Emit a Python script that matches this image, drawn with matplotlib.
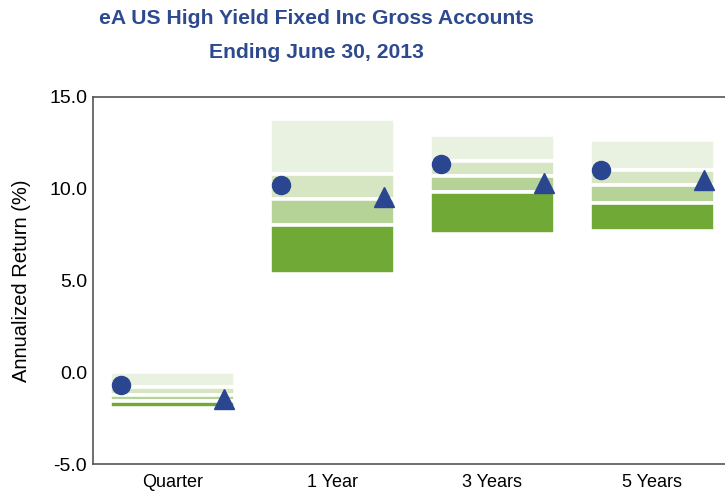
import matplotlib
matplotlib.use('Agg')
import matplotlib.pyplot as plt
from matplotlib import font_manager

# eA US High Yield universe percentiles, periods ending June 30, 2013
categories = ['Quarter', '1 Year', '3 Years', '5 Years']
pct_5 = [0.00, 13.80, 12.93, 12.66]
pct_25 = [-0.79, 10.80, 11.52, 11.03]
pct_50 = [-1.25, 9.45, 10.71, 10.18]
pct_75 = [-1.56, 8.00, 9.81, 9.24]
pct_95 = [-1.92, 5.38, 7.55, 7.68]
portfolio = [-0.71, 10.20, 11.34, 11.03]
benchmark = [-1.47, 9.52, 10.33, 10.49]

yticks = [-5.0, 0.0, 5.0, 10.0, 15.0]

names = {f.name for f in font_manager.fontManager.ttflist}
narrow = 'Liberation Sans Narrow' if 'Liberation Sans Narrow' in names else 'Liberation Sans'

band_colors = ['#e9f1e0', '#d6e5c2', '#b6d397', '#70a935']
marker_color = '#2a4691'
title_color = '#2e4a8e'

fig = plt.figure(figsize=(7.25, 4.92), dpi=100)
ax = fig.add_axes([0.128, 0.0563, 0.872, 0.7472])

x = list(range(len(categories)))
width = 0.78
bands = [(pct_25, pct_5), (pct_50, pct_25), (pct_75, pct_50), (pct_95, pct_75)]
for (lo, hi), col in zip(bands, band_colors):
    heights = [h - l for l, h in zip(lo, hi)]
    ax.bar(x, heights, width=width, bottom=lo, color=col,
           edgecolor='white', linewidth=2.6, zorder=2)

off = 0.32
ax.plot([i - off for i in x], portfolio, 'o', color=marker_color,
        markersize=13, linestyle='none', zorder=4)
ax.plot([i + off for i in x], benchmark, '^', color=marker_color,
        markersize=14, linestyle='none', zorder=4)

ax.set_xlim(-0.497, 3.453)
ax.set_ylim(-5, 15)
ax.set_yticks(yticks)
ax.set_yticklabels([f'{v:.1f}' for v in yticks], family=narrow, fontsize=14)
ax.set_xticks(x)
ax.set_xticklabels(categories, family=narrow, fontsize=13)
ax.tick_params(axis='y', length=0, pad=4)
ax.tick_params(axis='x', length=0, pad=7)
ax.set_ylabel('Annualized Return (%)', family=narrow, fontsize=14.5, labelpad=13)

for side in ['left', 'top', 'bottom']:
    ax.spines[side].set_color('#555555')
    ax.spines[side].set_linewidth(1.2)
ax.spines['right'].set_visible(False)

fig.text(0.436, 0.963, 'eA US High Yield Fixed Inc Gross Accounts', ha='center', va='center',
         family=narrow, fontsize=15.2, fontweight='bold', color=title_color)
fig.text(0.436, 0.893, 'Ending June 30, 2013', ha='center', va='center',
         family=narrow, fontsize=15.2, fontweight='bold', color=title_color)

fig.savefig('out.png', dpi=100)
